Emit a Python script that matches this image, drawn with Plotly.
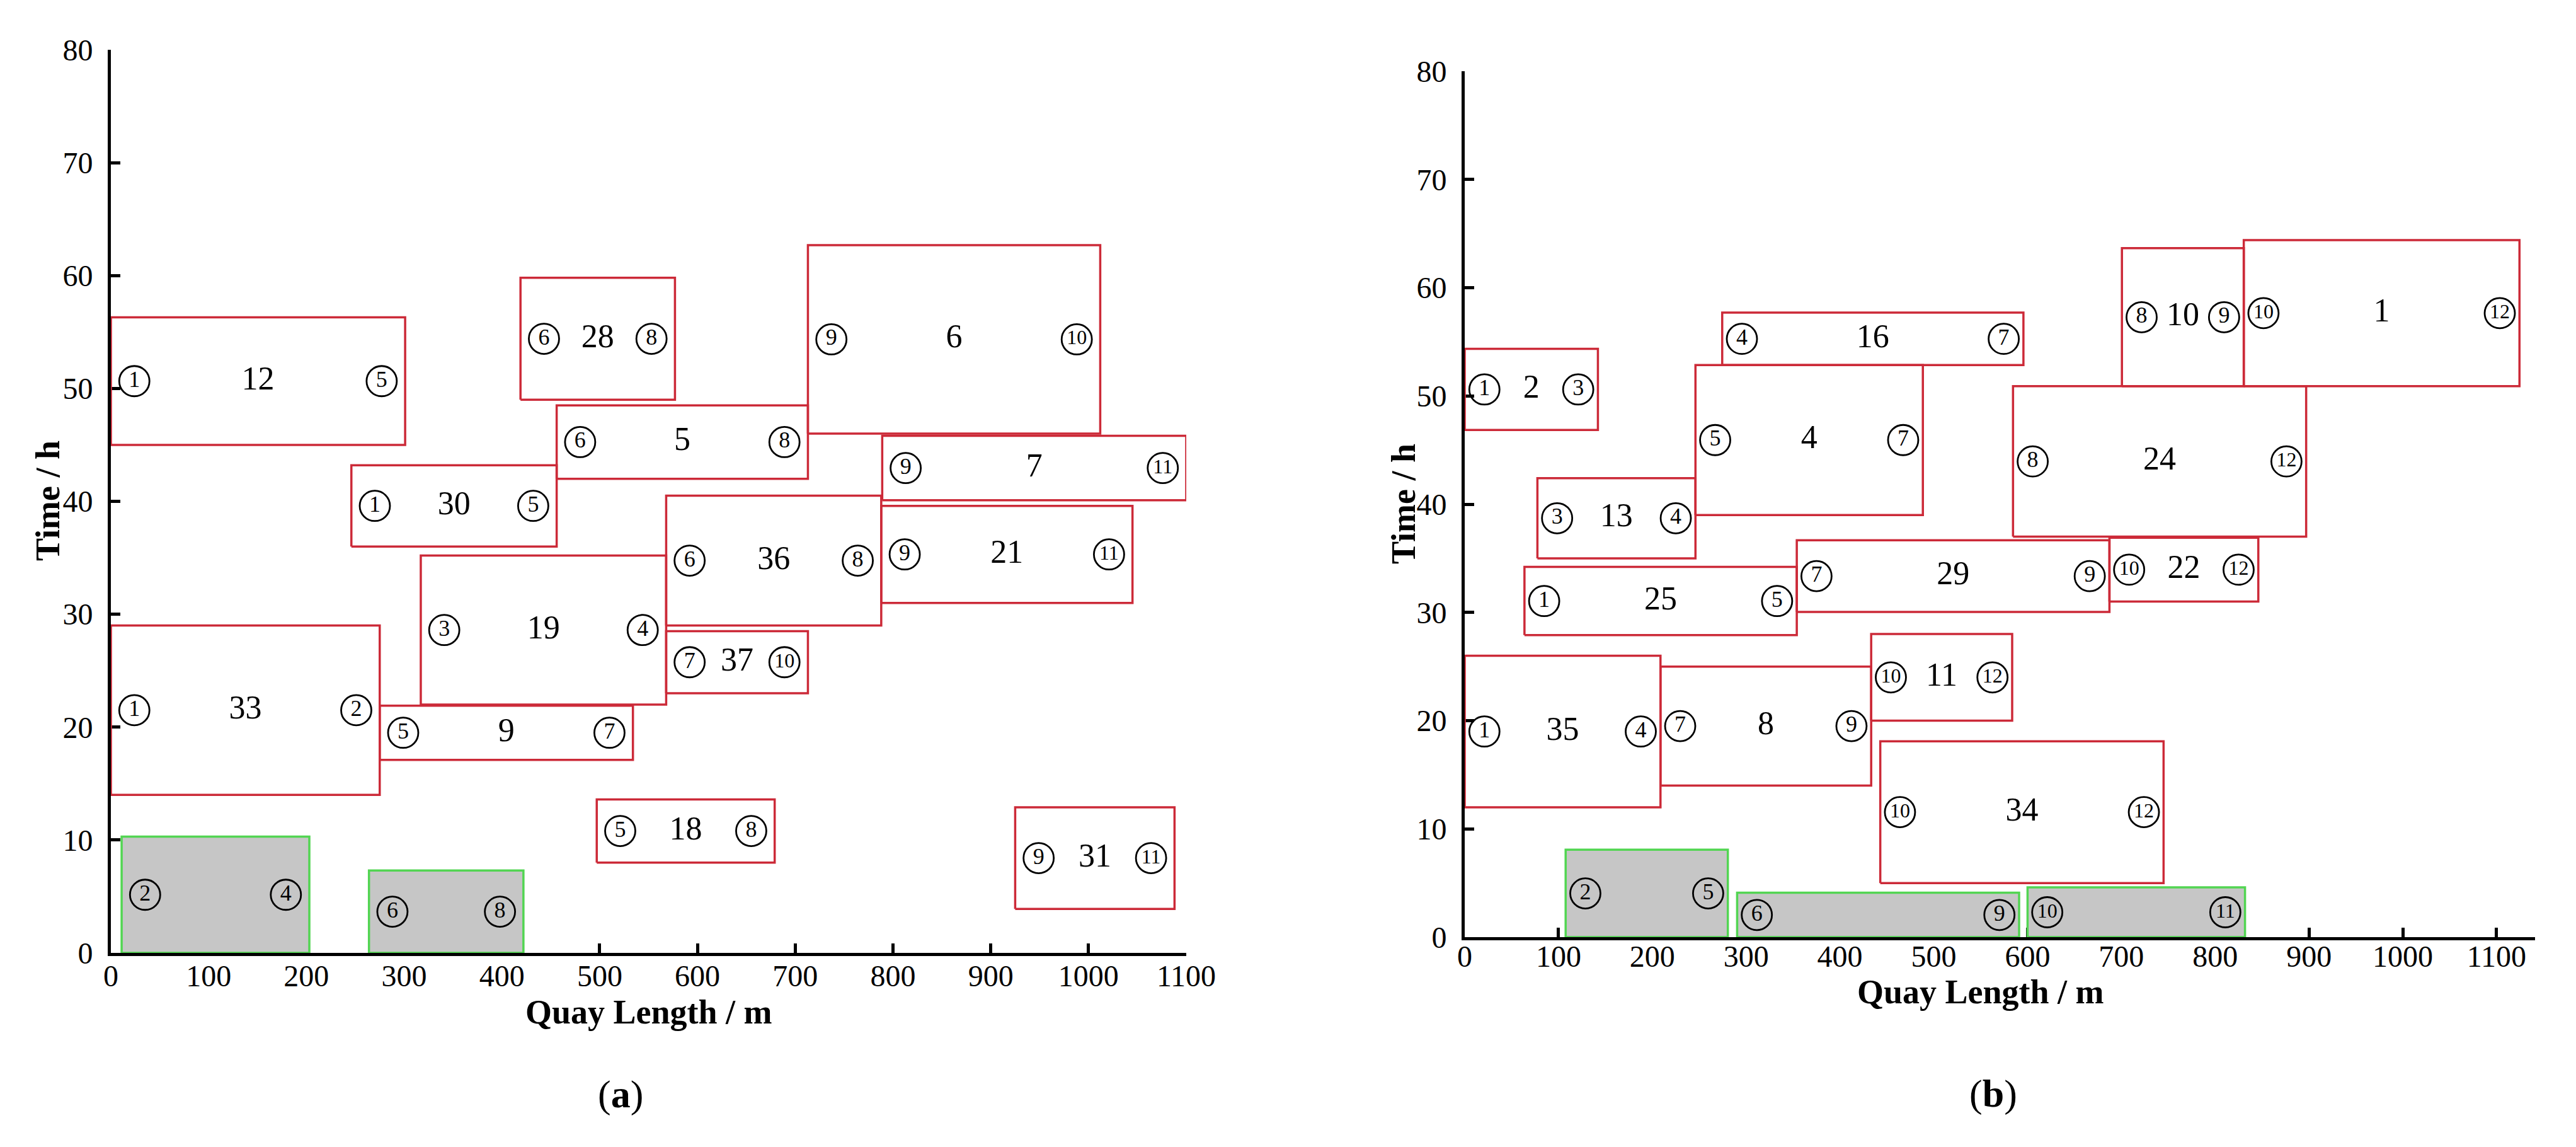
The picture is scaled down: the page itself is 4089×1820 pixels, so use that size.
import plotly.graph_objects as go

# ---- panel (a): berth plan, vessels = red boxes, busy berths = grey boxes
vessel_a = [12, 30, 28, 5, 6, 7, 36, 21, 19, 37, 33, 9, 18, 31]
start_a = [0, 246, 419, 456, 713, 789, 568, 788, 317, 568, 0, 275, 497, 925]
end_a = [301, 456, 577, 713, 1012, 1100, 788, 1045, 568, 713, 275, 534, 679, 1088]
arrive_a = [45.0, 36.0, 49.0, 42.0, 46.0, 40.1, 29.0, 31.0, 22.0, 23.0, 14.0, 17.1, 8.0, 3.9]
leave_a = [56.3, 43.2, 59.8, 48.5, 62.7, 45.8, 40.5, 39.6, 35.2, 28.5, 29.0, 21.9, 13.6, 12.9]
crane_from_a = [1, 1, 6, 6, 9, 9, 6, 9, 3, 7, 1, 5, 5, 9]
crane_to_a = [5, 5, 8, 8, 10, 11, 8, 11, 4, 10, 2, 7, 8, 11]

busy_start_a = [11, 264]
busy_end_a = [203, 422]
busy_leave_a = [10.3, 7.3]
busy_from_a = [2, 6]
busy_to_a = [4, 8]

# ---- panel (b)
vessel_b = [2, 16, 4, 13, 25, 29, 10, 1, 24, 22, 35, 8, 11, 34]
start_b = [0, 274.5, 246, 77.5, 63.7, 354, 700.6, 830.5, 584.5, 687.3, 0, 208.7, 433.3, 443]
end_b = [142, 595.6, 488.4, 246, 354, 687.3, 830.5, 1124.4, 897, 846, 208.7, 433.3, 583.6, 745]
arrive_b = [46.85, 52.85, 39.0, 35.0, 27.9, 30.05, 50.9, 50.9, 37.0, 31.0, 12.0, 14.0, 20.0, 5.0]
leave_b = [54.35, 57.7, 52.85, 42.4, 34.2, 36.66, 63.65, 64.4, 50.9, 36.9, 26.0, 25.0, 28.0, 18.1]
crane_from_b = [1, 4, 5, 3, 1, 7, 8, 10, 8, 10, 1, 7, 10, 10]
crane_to_b = [3, 7, 7, 4, 5, 9, 9, 12, 12, 12, 4, 9, 12, 12]

busy_start_b = [107.6, 290.4, 600]
busy_end_b = [280.5, 591, 831.8]
busy_leave_b = [8.08, 4.1, 4.6]
busy_from_b = [2, 6, 10]
busy_to_b = [5, 9, 11]

x_ticks = list(range(0, 1101, 100))
y_ticks = list(range(0, 81, 10))

W, H = 4089, 1820
PAGE_OFFSET = 8  # default body margin of the html page
FONT = "Liberation Serif, Times New Roman, serif"
RED = "#cc2a38"
GREEN = "#52d552"
GREY = "#c6c6c6"

fig = go.Figure()


def add_panel(fig, xa, ya, x0, x1, y0, y1, names, qf, qt, gx0, gx1, gy1, gqf, gqt, pad):
    # red vessel boxes
    for a, b, c, d in zip(x0, x1, y0, y1):
        fig.add_trace(go.Scatter(
            x=[a, b, b, a, a], y=[c, c, d, d, c], mode="lines",
            line=dict(color=RED, width=3.5), xaxis=xa, yaxis=ya,
            hoverinfo="skip", showlegend=False))
    # grey occupied boxes
    for a, b, d in zip(gx0, gx1, gy1):
        fig.add_trace(go.Scatter(
            x=[a, b, b, a, a], y=[0, 0, d, d, 0], mode="lines",
            fill="toself", fillcolor=GREY,
            line=dict(color=GREEN, width=3.5), xaxis=xa, yaxis=ya,
            hoverinfo="skip", showlegend=False))

    # vessel number in the middle
    fig.add_trace(go.Scatter(
        x=[(a + b) / 2 for a, b in zip(x0, x1)],
        y=[(c + d) / 2 for c, d in zip(y0, y1)],
        text=[str(n) for n in names], mode="text",
        textfont=dict(family=FONT, size=52, color="black"),
        xaxis=xa, yaxis=ya, hoverinfo="skip", showlegend=False, cliponaxis=False))

    # circled crane numbers at both ends
    cx, cy, ct = [], [], []
    all_x0 = list(x0) + list(gx0)
    all_x1 = list(x1) + list(gx1)
    all_yc = [(c + d) / 2 for c, d in zip(y0, y1)] + [d / 2 for d in gy1]
    all_f = list(qf) + list(gqf)
    all_t = list(qt) + list(gqt)
    for a, b, yc, f, t in zip(all_x0, all_x1, all_yc, all_f, all_t):
        cx += [a + pad, b - pad]
        cy += [yc, yc]
        ct += [f, t]
    fig.add_trace(go.Scatter(
        x=cx, y=cy, text=[str(n) for n in ct], mode="markers+text",
        textposition="middle center",
        marker=dict(symbol="circle-open", size=48, color="black",
                    line=dict(width=2.8, color="black")),
        textfont=dict(family=FONT, color="black",
                      size=[36 if n < 10 else 32 for n in ct]),
        xaxis=xa, yaxis=ya, hoverinfo="skip", showlegend=False, cliponaxis=False))


add_panel(fig, "x", "y", start_a, end_a, arrive_a, leave_a, vessel_a,
          crane_from_a, crane_to_a, busy_start_a, busy_end_a, busy_leave_a,
          busy_from_a, busy_to_a, 24)
add_panel(fig, "x2", "y2", start_b, end_b, arrive_b, leave_b, vessel_b,
          crane_from_b, crane_to_b, busy_start_b, busy_end_b, busy_leave_b,
          busy_from_b, busy_to_b, 21)


def px_x(p):
    return (p - PAGE_OFFSET) / W


def px_y(p):
    return 1 - (p - PAGE_OFFSET) / H


axis_common = dict(
    showline=True, linecolor="black", linewidth=5, showgrid=False, zeroline=False,
    ticks="inside", ticklen=15, tickwidth=5, tickcolor="black",
    tickfont=dict(family=FONT, size=48, color="black"), layer="below traces",
    fixedrange=True, automargin=False,
)

fig.update_layout(
    width=W, height=H,
    margin=dict(l=0, r=0, t=0, b=0, pad=0),
    paper_bgcolor="white", plot_bgcolor="white",
    xaxis=dict(axis_common, domain=[px_x(176), px_x(1883)], range=[0, 1100],
               tickvals=x_ticks, anchor="y", ticklabelstandoff=-10),
    yaxis=dict(axis_common, domain=[px_y(1512), px_y(79)], range=[0, 80],
               tickvals=y_ticks, anchor="x", ticklabelstandoff=14),
    xaxis2=dict(axis_common, domain=[px_x(2325), px_x(4024)], range=[0, 1141],
                tickvals=x_ticks, anchor="y2", ticklabelstandoff=-16),
    yaxis2=dict(axis_common, domain=[px_y(1487), px_y(113)], range=[0, 80],
                tickvals=y_ticks, anchor="x2", ticklabelstandoff=14),
)

title_font = dict(family=FONT, size=54, color="black")
common_ann = dict(showarrow=False, xanchor="center", yanchor="middle")
fig.add_annotation(text="<b>Time / h</b>", textangle=-90, xref="paper", yref="paper",
                   x=px_x(76), y=px_y(795), font=title_font, **common_ann)
fig.add_annotation(text="<b>Time / h</b>", textangle=-90, xref="paper", yref="paper",
                   x=px_x(2228), y=px_y(800), font=title_font, **common_ann)
fig.add_annotation(text="<b>Quay Length / m</b>", xref="x", yref="paper",
                   x=550, y=px_y(1606), font=title_font, **common_ann)
fig.add_annotation(text="<b>Quay Length / m</b>", xref="x2", yref="paper",
                   x=550, y=px_y(1574), font=title_font, **common_ann)

fig.add_annotation(text="(<b>a</b>)", xref="paper", yref="paper",
                   x=px_x(985), y=px_y(1736),
                   font=dict(family=FONT, size=62, color="black"), **common_ann)
fig.add_annotation(text="(<b>b</b>)", xref="paper", yref="paper",
                   x=px_x(3164), y=px_y(1735),
                   font=dict(family=FONT, size=62, color="black"), **common_ann)

fig.write_html("out.html")
